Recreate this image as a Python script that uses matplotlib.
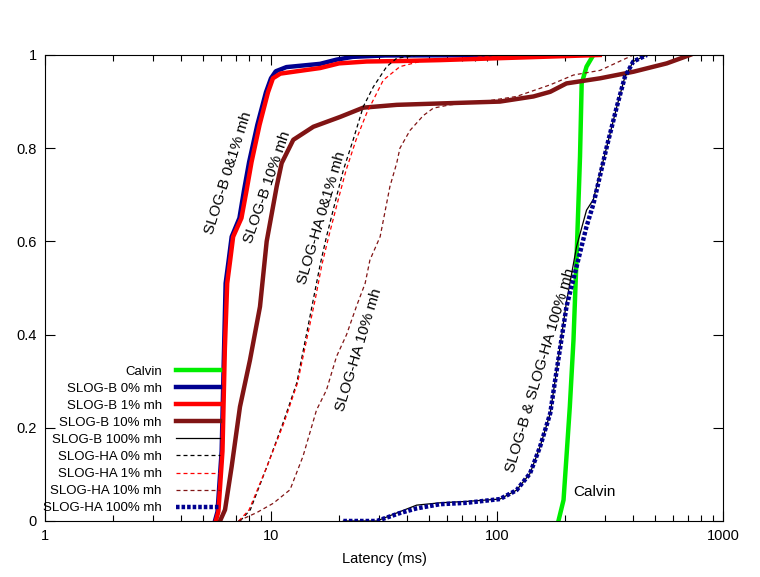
import numpy as np
import matplotlib
matplotlib.use("Agg")
import matplotlib.pyplot as plt
from matplotlib.ticker import LogLocator, NullFormatter, FixedLocator

plt.rcParams['font.family'] = ['Liberation Sans', 'DejaVu Sans']

# CDF curves (latency ms, cumulative fraction)
calvin_x = [187, 197, 203, 210, 218, 225, 229, 233, 237, 249, 267]
calvin_y = [0, .045, .138, .245, .388, .567, .674, .782, .939, .975, 1.0]

b0_x = [5.65, 5.8, 6.05, 6.2, 6.3, 6.5, 6.7, 7.25, 7.6, 8.0, 8.7, 9.5, 10.0, 10.5, 11.7, 16.5, 19.5, 23, 32, 150]
b0_y = [0, .02, .15, .37, .51, .56, .61, .65, .71, .77, .85, .92, .95, .965, .974, .981, .99, .996, .999, 1.0]

b1_x = [5.7, 5.85, 6.1, 6.25, 6.4, 6.6, 6.8, 7.4, 7.8, 8.2, 8.9, 9.7, 10.2, 11.0, 13.0, 16.5, 20, 26.5, 37, 56, 100, 285]
b1_y = [0, .02, .15, .37, .51, .56, .61, .65, .71, .77, .85, .92, .95, .96, .965, .972, .982, .986, .987, .989, .993, 1.0]

b10_x = [5.95, 6.26, 6.7, 7.29, 8.07, 8.94, 9.57, 10.6, 11.15, 12.55, 15.4, 20.2, 25.6, 36, 56, 103, 145, 172, 203, 286, 401, 564, 714]
b10_y = [0, .024, .117, .245, .345, .46, .60, .718, .768, .818, .846, .867, .887, .893, .896, .90, .911, .921, .939, .95, .964, .982, 1.0]

b100_x = [20.9, 29.4, 37.2, 44.1, 56, 73.5, 103, 122, 140, 155, 172, 181, 203, 225, 249, 267, 306, 339, 368, 401, 460]
b100_y = [0, 0, .02, .034, .039, .042, .047, .066, .102, .159, .231, .303, .47, .589, .667, .69, .803, .889, .953, .986, 1.0]

ha0_x = [7.3, 8.1, 9.6, 11.3, 13.0, 14.4, 15.4, 16.5, 17.6, 19.5, 20.9, 23.1, 25.6, 28.4, 32.5, 36.0, 45]
ha0_y = [0, .024, .117, .21, .296, .404, .476, .55, .61, .696, .753, .818, .889, .932, .975, .993, 1.0]

ha1_x = [7.2, 8.0, 9.6, 11.4, 13.1, 14.6, 15.7, 16.8, 18.0, 20.0, 21.5, 23.8, 26.5, 29.5, 31.4, 37.2, 45.6, 87, 290]
ha1_y = [0, .024, .117, .21, .296, .404, .476, .55, .61, .696, .753, .818, .875, .92, .946, .975, .986, .996, 1.0]

ha10_x = [7.17, 8.65, 10.24, 12.14, 13.86, 15.9, 17.6, 19.5, 21.6, 23.9, 26.1, 27.4, 30.4, 33.6, 36.0, 37.2, 41.2, 47.2, 52.3, 61.9, 87, 122, 172, 218, 286, 401]
ha10_y = [0, .018, .038, .067, .139, .238, .281, .353, .40, .461, .51, .56, .61, .718, .768, .80, .838, .87, .886, .893, .90, .911, .936, .957, .967, 1.0]

ha100_x = [20.9, 29.4, 37.2, 44.1, 56, 73.5, 103, 122, 140, 155, 172, 181, 203, 225, 249, 267, 306, 339, 368, 401, 460]
ha100_y = [0, 0, .017, .027, .036, .039, .047, .066, .102, .159, .231, .303, .46, .546, .632, .68, .803, .889, .953, .986, 1.0]

green = '#00ee00'
navy = '#000090'
red = '#ff0000'
dred = '#801414'

fig = plt.figure(figsize=(7.6, 5.77), dpi=100)
ax = fig.add_axes([0.0592, 0.0971, 0.8921, 0.8076])

ax.plot(calvin_x, calvin_y, color=green, lw=3.2, label='Calvin')
ax.plot(b0_x, b0_y, color=navy, lw=3.2, label='SLOG-B 0% mh')
ax.plot(b1_x, b1_y, color=red, lw=3.2, label='SLOG-B 1% mh')
ax.plot(b10_x, b10_y, color=dred, lw=3.2, label='SLOG-B 10% mh')
ax.plot(b100_x, b100_y, color='black', lw=0.9, label='SLOG-B 100% mh')
ax.plot(ha0_x, ha0_y, color='black', lw=0.9, dashes=(3.2, 2.4), label='SLOG-HA 0% mh')
ax.plot(ha1_x, ha1_y, color=red, lw=0.9, dashes=(3.2, 2.4), label='SLOG-HA 1% mh')
ax.plot(ha10_x, ha10_y, color=dred, lw=0.9, dashes=(3.2, 2.4), label='SLOG-HA 10% mh')
ax.plot(ha100_x, ha100_y, color=navy, lw=3.2, dashes=(0.8, 0.45), label='SLOG-HA 100% mh')

ax.set_xscale('log')
ax.set_xlim(1, 1000)
ax.set_ylim(0, 1)
ax.xaxis.set_major_locator(FixedLocator([1, 10, 100, 1000]))
ax.xaxis.set_minor_locator(LogLocator(base=10, subs=np.arange(2, 10)))
ax.xaxis.set_minor_formatter(NullFormatter())
ax.set_xticklabels(['1', '10', '100', '1000'])
ax.set_yticks([0, 0.2, 0.4, 0.6, 0.8, 1.0])
ax.set_yticklabels(['0', '0.2', '0.4', '0.6', '0.8', '1'])
ax.tick_params(which='both', direction='in', top=True, right=True, labelsize=10.5, width=0.8)
ax.tick_params(which='major', length=7, pad=6)
ax.tick_params(which='minor', length=4)
ax.set_xlabel('Latency (ms)', fontsize=10.5, labelpad=6)

# curve labels
fs = 11
ax.text(6.45, 0.747, 'SLOG-B 0&1% mh', rotation=72.5, ha='center', va='center', fontsize=fs)
ax.text(9.6, 0.717, 'SLOG-B 10% mh', rotation=71, ha='center', va='center', fontsize=fs)
ax.text(16.8, 0.65, 'SLOG-HA 0&1% mh', rotation=73.5, ha='center', va='center', fontsize=fs)
ax.text(24.5, 0.367, 'SLOG-HA 10% mh', rotation=73, ha='center', va='center', fontsize=fs)
ax.text(155, 0.324, 'SLOG-B & SLOG-HA 100% mh', rotation=73.4, ha='center', va='center', fontsize=fs)
ax.text(217, 0.062, 'Calvin', ha='left', va='center', fontsize=fs)

leg = ax.legend(loc='lower right', bbox_to_anchor=(0.258, 0.014), frameon=False,
                markerfirst=False, fontsize=9.5, handlelength=3.3, handletextpad=1.1,
                labelspacing=0.37, borderaxespad=0, borderpad=0)

fig.savefig('out.png', dpi=100)
